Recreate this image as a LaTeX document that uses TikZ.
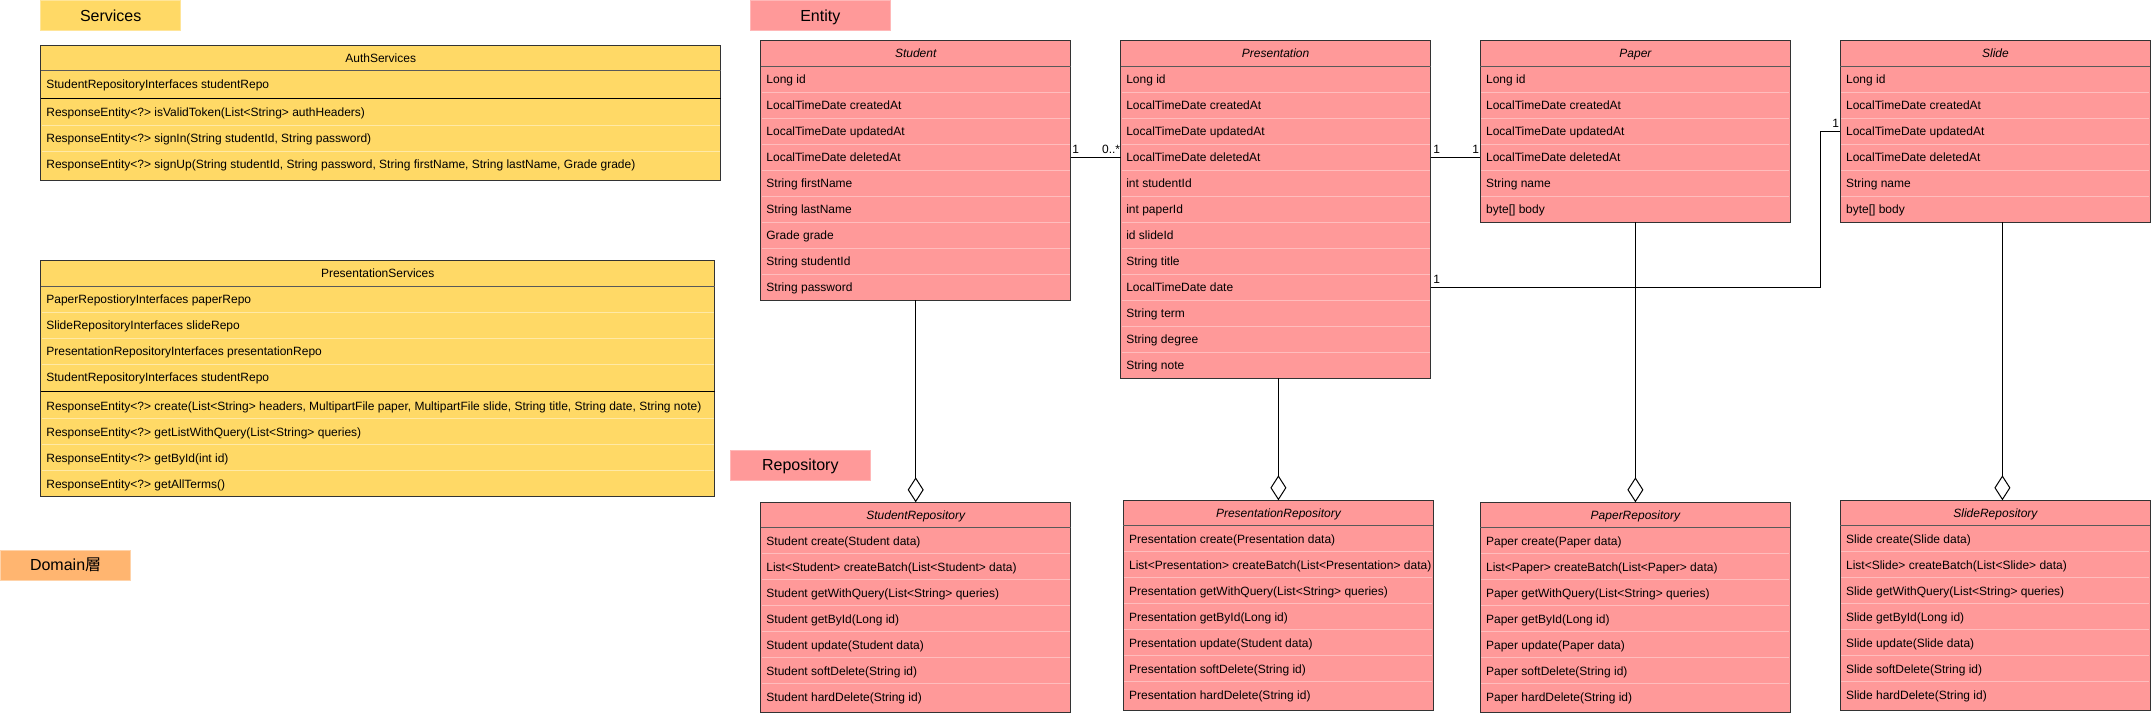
\documentclass[tikz,border=0pt]{standalone}
\usepackage{fontspec}
\setmainfont{Liberation Sans}
\newfontfamily\cjkfont{Noto Sans CJK JP}
\usetikzlibrary{calc,arrows.meta}

\definecolor{ylw}{HTML}{FFD966}
\definecolor{ylwline}{HTML}{FFE9A6}
\definecolor{ylwedge}{HTML}{FFE599}
\definecolor{pnk}{HTML}{FF9999}
\definecolor{pnkline}{HTML}{FFBDBD}
\definecolor{pnkedge}{HTML}{FFB8B8}
\definecolor{org}{HTML}{FFB570}
\definecolor{orgedge}{HTML}{FFD3AA}

\tikzset{
  box/.style={draw=black!80, line width=1pt, anchor=north west, inner sep=0pt, outer sep=0pt},
  hdrline/.style={draw=black!65, line width=1pt},
  sepline/.style={draw=black, line width=1pt},
  rowtext/.style={anchor=west, inner sep=0pt, font=\fontsize{12}{14}\selectfont, text height=8.6pt, text depth=0pt},
  hdrtext/.style={inner sep=0pt, font=\fontsize{12}{14}\selectfont, text height=8.6pt, text depth=0pt},
  lbl/.style={line width=1pt, inner sep=0pt, font=\fontsize{16}{19}\selectfont, text height=11.5pt, text depth=0pt},
  mult/.style={inner sep=0pt, font=\fontsize{12}{14}\selectfont},
  conn/.style={draw=black, line width=1pt},
  agg/.style={draw=black, line width=1pt, -{Diamond[open, length=25pt, width=16pt, line width=1pt]}}
}

\newcommand{\classbox}[7]{%
  \node[box, fill=#7, minimum width=#4pt, minimum height=#5pt] (#1) at (#2,#3) {};
  \node[hdrtext] (#1-title) at ($(#1.north)+(0,12.8)$) {#6};
  \draw[hdrline] ($(#1.north west)+(0,25.6)$) -- ($(#1.north east)+(0,25.6)$);
}
\newcommand{\classrows}[5]{%
  \foreach \rr [count=\i] in {#5} {
    \ifnum\i>1
      \draw[draw=#4, line width=1pt] ($(#1.north west)+(1,{#3+26*(\i-1)})$) -- ($(#1.north east)+(-1,{#3+26*(\i-1)})$);
    \fi
    \node[rowtext] (#1-#2\i) at ($(#1.north west)+(5.5,{#3+26*\i-13})$) {\rr};
  }
}

\begin{document}
\begin{tikzpicture}[x=1pt,y=-1pt]
\useasboundingbox (0,0) rectangle (2151,715);

% ---------- labels ----------
\node[lbl, fill=ylw, draw=ylwedge, minimum width=140pt, minimum height=30pt] (lservices) at (110.7,15.7) {Services};
\node[lbl, fill=pnk, draw=pnkedge, minimum width=140pt, minimum height=30pt] (lentity) at (820.3,15.7) {Entity};
\node[lbl, fill=pnk, draw=pnkedge, minimum width=140pt, minimum height=30pt] (lrepo) at (800.3,465) {Repository};
\node[lbl, fill=org, draw=orgedge, minimum width=130pt, minimum height=30pt] (ldomain) at (65.6,565) {Domain{\cjkfont 層}};

% ---------- services ----------
\classbox{auth}{40.7}{45}{680}{135}{AuthServices}{ylw}
\classrows{auth}{a}{26.3}{ylwline}{StudentRepositoryInterfaces studentRepo}
\draw[sepline] ($(auth.north west)+(0,53.3)$) -- ($(auth.north east)+(0,53.3)$);
\classrows{auth}{m}{54.3}{ylwline}{{ResponseEntity<?> isValidToken(List<String> authHeaders)},{ResponseEntity<?> signIn(String studentId, String password)},{ResponseEntity<?> signUp(String studentId, String password, String firstName, String lastName, Grade grade)}}

\classbox{psrv}{40.7}{260.7}{674}{236}{PresentationServices}{ylw}
\classrows{psrv}{a}{25.6}{ylwline}{PaperRepostioryInterfaces paperRepo,SlideRepositoryInterfaces slideRepo,PresentationRepositoryInterfaces presentationRepo,StudentRepositoryInterfaces studentRepo}
\draw[sepline] ($(psrv.north west)+(0,130.6)$) -- ($(psrv.north east)+(0,130.6)$);
\classrows{psrv}{m}{132}{ylwline}{{ResponseEntity<?> create(List<String> headers, MultipartFile paper, MultipartFile slide, String title, String date, String note)},{ResponseEntity<?> getListWithQuery(List<String> queries)},{ResponseEntity<?> getById(int id)},{ResponseEntity<?> getAllTerms()}}

% ---------- entities ----------
\classbox{student}{760.7}{40.7}{310}{259.6}{\itshape Student}{pnk}
\classrows{student}{}{25.6}{pnkline}{Long id,LocalTimeDate createdAt,LocalTimeDate updatedAt,LocalTimeDate deletedAt,String firstName,String lastName,Grade grade,String studentId,String password}

\classbox{pres}{1120.6}{40.7}{310}{337.6}{\itshape Presentation}{pnk}
\classrows{pres}{}{25.6}{pnkline}{Long id,LocalTimeDate createdAt,LocalTimeDate updatedAt,LocalTimeDate deletedAt,int studentId,int paperId,id slideId,String title,LocalTimeDate date,String term,String degree,String note}

\classbox{paper}{1480.4}{40.7}{310}{181.6}{\itshape Paper}{pnk}
\classrows{paper}{}{25.6}{pnkline}{Long id,LocalTimeDate createdAt,LocalTimeDate updatedAt,LocalTimeDate deletedAt,String name,byte[] body}

\classbox{slide}{1840.4}{40.7}{310}{181.6}{\itshape Slide}{pnk}
\classrows{slide}{}{25.6}{pnkline}{Long id,LocalTimeDate createdAt,LocalTimeDate updatedAt,LocalTimeDate deletedAt,String name,byte[] body}

% ---------- repositories ----------
\classbox{srepo}{760.7}{502.3}{310}{210.4}{\itshape StudentRepository}{pnk}
\classrows{srepo}{}{25.6}{pnkline}{Student create(Student data),List<Student> createBatch(List<Student> data),Student getWithQuery(List<String> queries),Student getById(Long id),Student update(Student data),Student softDelete(String id),Student hardDelete(String id)}

\classbox{prepo}{1123.4}{500.3}{310}{210}{\itshape PresentationRepository}{pnk}
\classrows{prepo}{}{25.6}{pnkline}{Presentation create(Presentation data),List<Presentation> createBatch(List<Presentation> data),Presentation getWithQuery(List<String> queries),Presentation getById(Long id),Presentation update(Student data),Presentation softDelete(String id),Presentation hardDelete(String id)}

\classbox{parepo}{1480.4}{502.3}{310}{210.4}{\itshape PaperRepository}{pnk}
\classrows{parepo}{}{25.6}{pnkline}{Paper create(Paper data),List<Paper> createBatch(List<Paper> data),Paper getWithQuery(List<String> queries),Paper getById(Long id),Paper update(Paper data),Paper softDelete(String id),Paper hardDelete(String id)}

\classbox{slrepo}{1840.4}{500.3}{310}{210}{\itshape SlideRepository}{pnk}
\classrows{slrepo}{}{25.6}{pnkline}{Slide create(Slide data),List<Slide> createBatch(List<Slide> data),Slide getWithQuery(List<String> queries),Slide getById(Long id),Slide update(Slide data),Slide softDelete(String id),Slide hardDelete(String id)}

% ---------- associations ----------
\draw[conn] (student.east |- student-4) -- (pres.west |- pres-4);
\node[mult, anchor=base west] (m1) at ($(student.east |- student-4)+(1.5,-3.5)$) {1};
\node[mult, anchor=base east] (m2) at ($(pres.west |- pres-4)+(-0.3,-3.5)$) {0..*};

\draw[conn] (pres.east |- pres-4) -- (paper.west |- paper-4);
\node[mult, anchor=base west] (m3) at ($(pres.east |- pres-4)+(2.5,-3.5)$) {1};
\node[mult, anchor=base east] (m4) at ($(paper.west |- paper-4)+(-1.2,-3.5)$) {1};

\coordinate (bend) at (1820,0);
\draw[conn] (pres.east |- pres-9) -| (bend |- slide-3) -- (slide.west |- slide-3);
\node[mult, anchor=base west] (m5) at ($(pres.east |- pres-9)+(2.5,-3.5)$) {1};
\node[mult, anchor=base east] (m6) at ($(slide.west |- slide-3)+(-1.2,-3.5)$) {1};

% ---------- aggregations ----------
\draw[agg] (student.south) -- (srepo.north);
\draw[agg] (prepo.north |- pres.south) -- (prepo.north);
\draw[agg] (paper.south) -- (parepo.north);
\coordinate (slx) at ($(slide.south)+(7,0)$);
\draw[agg] (slx) -- (slx |- slrepo.north);
\end{tikzpicture}
\end{document}
